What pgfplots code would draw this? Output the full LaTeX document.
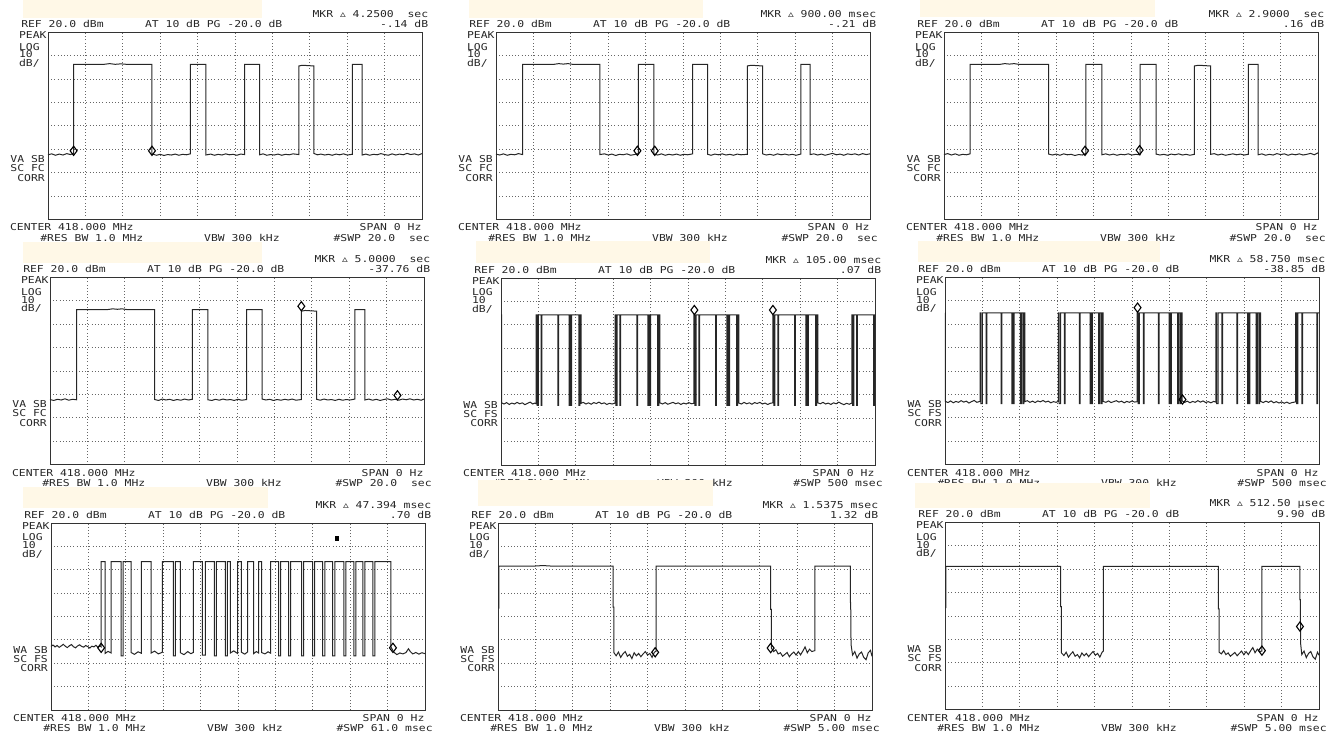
\documentclass[border=0pt]{standalone}
\usepackage{pgfplots}
\pgfplotsset{compat=1.18}
\usepackage{graphicx}
\usepackage{fontspec}
\newfontfamily\hpfont{DejaVu Sans Mono}
\newfontfamily\symfont{DejaVu Sans}
\definecolor{memo}{RGB}{255,248,231}
\newcommand{\hx}[1]{\scalebox{1.2}[1]{#1}}
\newcommand{\dl}{{\symfont ▵}}
\tikzset{hp/.style={font=\hpfont\fontsize{9.5pt}{9.5pt}\selectfont, inner sep=0pt, text=black!85}}
\pgfplotsset{
  sa/.style={width=374pt, height=187pt, scale only axis, anchor=north west, clip=false,
    ymin=-60, ymax=20, ytick={-50,-40,...,10},
    xmajorgrids, ymajorgrids, xticklabels={}, yticklabels={},
    tick style={draw=none},
    axis line style={black!80, line width=0.9pt},
    major grid style={black!60, line width=0.8pt, dash pattern=on 0.8pt off 2.4pt}},
  tr/.style={black!85, line width=1pt, no marks},
  mk/.style={only marks, mark=diamond, mark size=4.6pt, black, line width=1.1pt},
}
% screen annotations: marker value, marker dB, 2 status lines, sweep
\newcommand{\scr}[5]{%
  \node[hp,anchor=east] at (axis description cs:1.017,1.098) {\hx{MKR \dl{} #1}};
  \node[hp,anchor=west] at (axis description cs:-0.072,1.044) {\hx{REF 20.0 dBm}};
  \node[hp,anchor=west] at (axis description cs:0.259,1.044) {\hx{AT 10 dB PG -20.0 dB}};
  \node[hp,anchor=east] at (axis description cs:1.017,1.044) {\hx{#2 dB}};
  \node[hp,anchor=west] at (axis description cs:-0.078,0.986) {\hx{PEAK}};
  \node[hp,anchor=west] at (axis description cs:-0.078,0.923) {\hx{LOG}};
  \node[hp,anchor=west] at (axis description cs:-0.078,0.882) {\hx{10}};
  \node[hp,anchor=west] at (axis description cs:-0.078,0.834) {\hx{dB/}};
  \node[hp,anchor=east] at (axis description cs:-0.008,0.322) {\hx{#3}};
  \node[hp,anchor=east] at (axis description cs:-0.008,0.273) {\hx{#4}};
  \node[hp,anchor=east] at (axis description cs:-0.008,0.222) {\hx{CORR}};
  \node[hp,anchor=west] at (axis description cs:-0.102,-0.044) {\hx{CENTER 418.000 MHz}};
  \node[hp,anchor=east] at (axis description cs:0.999,-0.044) {\hx{SPAN 0 Hz}};
  \node[hp,anchor=west] at (axis description cs:-0.021,-0.098) {\hx{\#RES BW 1.0 MHz}};
  \node[hp,anchor=west] at (axis description cs:0.417,-0.098) {\hx{VBW 300 kHz}};
  \node[hp,anchor=east] at (axis description cs:1.021,-0.098) {\hx{\#SWP #5}};
}
\begin{document}
\begin{tikzpicture}
\useasboundingbox (0pt,0pt) rectangle (1338pt,-736pt);

% ---- row 1 ----
\begin{axis}[sa, at={(48pt,-32.3pt)}, xmin=0, xmax=20, xtick={2,4,...,18}]
\addplot[tr] coordinates {(0,-32.4) (0.2,-32.0) (0.4,-32.6) (0.6,-32.1) (0.8,-32.5) (1.0,-31.9) (1.2,-32.3) (1.37,-31.8) (1.37,6.3) (3,6.3) (3.3,6.6) (3.6,6.3) (3.9,6.5) (4.2,6.3) (5.56,6.3) (5.56,-32.0) (5.8,-32.6) (6.0,-32.2) (6.2,-32.7) (6.4,-32.3) (6.6,-32.5) (6.8,-32.1) (7.0,-32.6) (7.2,-32.2) (7.4,-32.4) (7.61,-32.0) (7.61,6.3) (8.44,6.3) (8.44,-32.5) (8.7,-32.1) (8.9,-32.6) (9.1,-32.2) (9.3,-32.5) (9.5,-32.0) (9.7,-32.4) (9.9,-32.2) (10.1,-32.6) (10.3,-32.1) (10.52,-32.3) (10.52,6.3) (11.32,6.3) (11.32,-32.4) (11.5,-32.0) (11.7,-32.6) (11.9,-32.3) (12.1,-32.5) (12.3,-32.1) (12.5,-32.6) (12.7,-32.2) (12.9,-32.4) (13.1,-32.0) (13.42,-32.3) (13.42,5.6) (13.6,5.9) (14.22,5.6) (14.22,-31.8) (14.4,-32.4) (14.6,-32.1) (14.8,-32.5) (15.0,-32.2) (15.2,-32.6) (15.4,-32.1) (15.6,-32.4) (15.8,-32.0) (16.0,-32.5) (16.27,-32.2) (16.27,6.3) (16.8,6.3) (16.8,-32.5) (17.0,-32.1) (17.2,-32.6) (17.4,-32.2) (17.6,-32.4) (17.8,-31.9) (18.0,-32.3) (18.2,-32.6) (18.4,-32.0) (18.6,-32.5) (18.8,-32.1) (19.0,-32.4) (19.2,-31.8) (19.4,-32.3) (19.6,-32.0) (19.8,-32.5) (20,-31.9)};
\addplot[mk] coordinates {(1.37,-30.7) (5.56,-30.7)};
\scr{4.2500~~sec}{-.14}{VA SB}{SC FC}{20.0~~sec}
\end{axis}

\begin{axis}[sa, at={(496pt,-32.3pt)}, xmin=0, xmax=20, xtick={2,4,...,18}]
\addplot[tr] coordinates {(0,-32.1) (0.2,-32.5) (0.4,-32.0) (0.6,-32.6) (0.8,-32.2) (1.0,-32.4) (1.2,-31.9) (1.42,-32.3) (1.42,6.3) (3.1,6.3) (3.35,6.6) (3.6,6.4) (3.85,6.6) (4.1,6.3) (5.56,6.3) (5.56,-32.3) (5.8,-32.0) (6.0,-32.5) (6.2,-32.1) (6.4,-32.7) (6.6,-32.2) (6.8,-32.4) (7.0,-32.0) (7.2,-32.6) (7.4,-32.3) (7.61,-31.9) (7.61,6.3) (8.44,6.3) (8.44,-32.1) (8.65,-32.5) (8.85,-32.0) (9.05,-32.6) (9.25,-32.2) (9.45,-32.5) (9.65,-32.1) (9.85,-32.6) (10.05,-32.2) (10.25,-32.4) (10.52,-32.0) (10.52,6.3) (11.32,6.3) (11.32,-32.2) (11.5,-32.6) (11.7,-32.1) (11.9,-32.4) (12.1,-32.0) (12.3,-32.5) (12.5,-32.2) (12.7,-32.6) (12.9,-32.1) (13.1,-32.4) (13.44,-32.2) (13.44,5.6) (13.65,5.9) (14.26,5.6) (14.26,-32.0) (14.45,-32.5) (14.65,-32.2) (14.85,-32.6) (15.05,-32.0) (15.25,-32.4) (15.45,-32.1) (15.65,-32.5) (15.85,-32.2) (16.05,-32.6) (16.30,-32.1) (16.30,6.3) (16.80,6.3) (16.80,-32.3) (17.0,-32.0) (17.2,-32.5) (17.4,-32.1) (17.6,-32.6) (17.8,-32.2) (18.0,-31.8) (18.2,-32.4) (18.4,-32.1) (18.6,-32.6) (18.8,-32.0) (19.0,-32.3) (19.2,-32.0) (19.4,-32.5) (19.6,-31.9) (19.8,-32.3) (20,-32.0)};
\addplot[mk] coordinates {(7.56,-30.7) (8.49,-30.7)};
\scr{900.00 msec}{-.21}{VA SB}{SC FC}{20.0~~sec}
\end{axis}

\begin{axis}[sa, at={(944pt,-32.3pt)}, xmin=0, xmax=20, xtick={2,4,...,18}]
\addplot[tr] coordinates {(0,-32.3) (0.2,-31.9) (0.4,-32.5) (0.6,-32.0) (0.8,-32.6) (1.0,-32.2) (1.2,-32.4) (1.39,-32.0) (1.39,6.3) (3.0,6.3) (3.25,6.6) (3.5,6.4) (3.75,6.6) (4.0,6.3) (5.60,6.3) (5.60,-32.1) (5.8,-32.5) (6.0,-32.1) (6.2,-32.6) (6.4,-32.0) (6.6,-32.4) (6.8,-32.2) (7.0,-32.7) (7.2,-32.3) (7.4,-32.5) (7.59,-31.8) (7.59,6.3) (8.44,6.3) (8.44,-32.4) (8.65,-32.0) (8.85,-32.5) (9.05,-32.1) (9.25,-32.6) (9.45,-32.2) (9.65,-32.4) (9.85,-32.0) (10.05,-32.5) (10.25,-32.2) (10.49,-32.4) (10.49,6.3) (11.34,6.3) (11.34,-32.1) (11.55,-32.5) (11.75,-32.2) (11.95,-32.6) (12.15,-32.1) (12.35,-32.4) (12.55,-32.0) (12.75,-32.5) (12.95,-32.2) (13.15,-32.6) (13.39,-32.2) (13.39,5.6) (13.6,5.9) (14.26,5.6) (14.26,-32.2) (14.45,-31.9) (14.65,-32.5) (14.85,-32.1) (15.05,-32.6) (15.25,-32.3) (15.45,-32.0) (15.65,-32.4) (15.85,-32.1) (16.05,-32.5) (16.27,-32.2) (16.27,6.3) (16.80,6.3) (16.80,-32.4) (17.0,-32.0) (17.2,-32.6) (17.4,-32.2) (17.6,-32.5) (17.8,-31.9) (18.0,-32.3) (18.2,-32.0) (18.4,-32.6) (18.6,-32.1) (18.8,-32.4) (19.0,-32.0) (19.2,-32.5) (19.4,-32.2) (19.6,-31.8) (19.8,-32.4) (20,-31.6)};
\addplot[mk] coordinates {(7.54,-30.7) (10.46,-30.4)};
\scr{2.9000~~sec}{.16}{VA SB}{SC FC}{20.0~~sec}
\end{axis}

% ---- row 2 ----
\begin{axis}[sa, at={(50pt,-277.5pt)}, xmin=0, xmax=20, xtick={2,4,...,18}]
\addplot[tr] coordinates {(0,-32.2) (0.2,-32.6) (0.4,-32.1) (0.6,-32.4) (0.8,-31.9) (1.0,-32.5) (1.2,-32.1) (1.42,-32.3) (1.42,6.3) (3.1,6.3) (3.35,6.6) (3.6,6.4) (3.85,6.6) (4.1,6.3) (5.60,6.3) (5.60,-32.2) (5.8,-32.6) (6.0,-32.0) (6.2,-32.4) (6.4,-32.1) (6.6,-32.6) (6.8,-32.2) (7.0,-32.5) (7.2,-32.0) (7.4,-32.4) (7.61,-32.1) (7.61,6.3) (8.44,6.3) (8.44,-32.3) (8.65,-32.6) (8.85,-32.1) (9.05,-32.5) (9.25,-32.0) (9.45,-32.4) (9.65,-32.2) (9.85,-32.6) (10.05,-32.1) (10.25,-32.5) (10.52,-32.2) (10.52,6.3) (11.34,6.3) (11.34,-32.0) (11.55,-32.4) (11.75,-32.1) (11.95,-32.6) (12.15,-32.2) (12.35,-32.5) (12.55,-32.1) (12.75,-32.4) (12.95,-32.0) (13.15,-32.5) (13.44,-32.2) (13.44,5.6) (13.65,5.9) (14.26,5.6) (14.26,-32.1) (14.45,-32.5) (14.65,-32.0) (14.85,-32.4) (15.05,-32.2) (15.25,-32.6) (15.45,-32.1) (15.65,-32.5) (15.85,-32.2) (16.05,-32.4) (16.30,-32.0) (16.30,6.3) (16.84,6.3) (16.84,-32.4) (17.05,-32.0) (17.25,-32.5) (17.45,-32.1) (17.65,-32.6) (17.85,-32.2) (18.05,-31.9) (18.25,-32.4) (18.45,-32.1) (18.65,-32.5) (18.85,-32.0) (19.05,-32.3) (19.25,-31.9) (19.45,-32.4) (19.65,-32.1) (19.85,-32.5) (20,-32.0)};
\addplot[mk] coordinates {(13.44,7.7) (18.58,-30.4)};
\scr{5.0000~~sec}{-37.76}{VA SB}{SC FC}{20.0~~sec}
\end{axis}

\begin{axis}[sa, at={(501pt,-278pt)}, xmin=0, xmax=500, xtick={50,100,...,450}]
\addplot[tr] coordinates {(0,4.2) (0.9,4.2) (0.9,-33.4)
(4,-33.9) (7.5,-33.3) (11,-34.1) (14.5,-33.5) (18,-33.9) (21.5,-33.2) (25,-33.8) (28.5,-33.4) (32,-34.2) (35.5,-33.6) (39,-33.1) (42.5,-33.9) (45,-33.5) (47,-33.8)
(47,4.2) (48.2,4.2) (48.2,-34.5) (49.8,-34.5) (49.8,4.2) (53.5,4.2) (53.5,-34.5) (54.5,-34.5) (54.5,4.2) (76,4.2) (76,-34.5) (77,-34.5) (77,4.2) (91,4.2) (91,-34.5) (91.8,-34.5) (91.8,4.2) (93.2,4.2) (93.2,-34.5) (94.5,-34.5) (94.5,4.2) (104,4.2) (104,-34.5) (105.5,-34.5) (105.5,4.2) (107,4.2) (107,-33.6)
(110,-33.2) (113.5,-33.9) (117,-33.4) (120.5,-34.0) (124,-33.3) (127.5,-33.7) (131,-33.1) (134.5,-33.8) (138,-33.4) (141.5,-34.1) (145,-33.6) (148.5,-33.9) (152.5,-33.5)
(152.5,4.2) (153.7,4.2) (153.7,-34.5) (155.3,-34.5) (155.3,4.2) (159,4.2) (159,-34.5) (160,-34.5) (160,4.2) (181.5,4.2) (181.5,-34.5) (182.5,-34.5) (182.5,4.2) (196.5,4.2) (196.5,-34.5) (197.3,-34.5) (197.3,4.2) (198.7,4.2) (198.7,-34.5) (200,-34.5) (200,4.2) (209.5,4.2) (209.5,-34.5) (211,-34.5) (211,4.2) (212.5,4.2) (212.5,-33.4)
(216,-33.9) (219.5,-33.3) (223,-34.0) (226.5,-33.6) (230,-33.2) (233.5,-33.8) (237,-33.4) (240.5,-34.1) (244,-33.5) (247.5,-33.9) (251,-33.3) (254.5,-33.8) (258,-33.6)
(258,4.2) (259.2,4.2) (259.2,-34.5) (260.8,-34.5) (260.8,4.2) (264.5,4.2) (264.5,-34.5) (265.5,-34.5) (265.5,4.2) (287,4.2) (287,-34.5) (288,-34.5) (288,4.2) (302,4.2) (302,-34.5) (302.8,-34.5) (302.8,4.2) (304.2,4.2) (304.2,-34.5) (305.5,-34.5) (305.5,4.2) (315,4.2) (315,-34.5) (316.5,-34.5) (316.5,4.2) (318,4.2) (318,-33.5)
(321.5,-33.9) (325,-33.2) (328.5,-33.8) (332,-33.4) (335.5,-34.0) (339,-33.3) (342.5,-33.7) (346,-33.2) (349.5,-33.9) (353,-33.5) (356.5,-34.1) (360,-33.6) (363.5,-33.4)
(363.5,4.2) (364.7,4.2) (364.7,-34.5) (366.3,-34.5) (366.3,4.2) (370,4.2) (370,-34.5) (371,-34.5) (371,4.2) (392.5,4.2) (392.5,-34.5) (393.5,-34.5) (393.5,4.2) (407.5,4.2) (407.5,-34.5) (408.3,-34.5) (408.3,4.2) (409.7,4.2) (409.7,-34.5) (411,-34.5) (411,4.2) (420.5,4.2) (420.5,-34.5) (422,-34.5) (422,4.2) (423.5,4.2) (423.5,-33.4)
(427,-33.8) (430.5,-33.2) (434,-33.9) (437.5,-33.5) (441,-34.1) (444.5,-33.4) (448,-33.8) (451.5,-33.1) (455,-33.7) (458.5,-34.2) (462,-33.6) (465.5,-34.0) (469,-33.5)
(469,4.2) (470.2,4.2) (470.2,-34.5) (471.8,-34.5) (471.8,4.2) (475.5,4.2) (475.5,-34.5) (476.5,-34.5) (476.5,4.2) (498,4.2) (498,-34.5) (499,-34.5) (499,4.2) (500,4.2)};
\addplot[mk] coordinates {(258.5,6.3) (363.5,6.3)};
\scr{105.00 msec}{.07}{WA SB}{SC FS}{500 msec}
\end{axis}

\begin{axis}[sa, at={(945pt,-277.5pt)}, xmin=0, xmax=500, xtick={50,100,...,450}]
\addplot[tr] coordinates {(0,4.9) (0.5,4.9) (0.5,-33.0)
(4,-33.5) (7.5,-32.8) (11,-33.6) (14.5,-33.0) (18,-33.4) (21.5,-32.7) (25,-33.3) (28.5,-32.9) (32,-33.7) (35.5,-33.1) (39,-32.6) (42.5,-33.4) (46.8,-33.0)
(46.8,4.9) (48,4.9) (48,-34) (49.8,-34) (49.8,4.9) (55.1,4.9) (55.1,-34) (56.1,-34) (56.1,4.9) (75.1,4.9) (75.1,-34) (76.1,-34) (76.1,4.9) (89.3,4.9) (89.3,-34) (90.1,-34) (90.1,4.9) (91,4.9) (91,-34) (92.3,-34) (92.3,4.9) (100.8,4.9) (100.8,-34) (102.3,-34) (102.3,4.9) (104.3,4.9) (104.3,-34) (105.3,-34) (105.3,4.9) (106.8,4.9) (106.8,-33.1)
(110,-32.7) (113.5,-33.4) (117,-32.9) (120.5,-33.5) (124,-32.8) (127.5,-33.2) (131,-32.6) (134.5,-33.3) (138,-32.9) (141.5,-33.6) (145,-33.1) (148.5,-33.4) (151.4,-33.0)
(151.4,4.9) (152.6,4.9) (152.6,-34) (154.4,-34) (154.4,4.9) (159.7,4.9) (159.7,-34) (160.7,-34) (160.7,4.9) (179.7,4.9) (179.7,-34) (180.7,-34) (180.7,4.9) (193.9,4.9) (193.9,-34) (194.7,-34) (194.7,4.9) (195.6,4.9) (195.6,-34) (196.9,-34) (196.9,4.9) (205.4,4.9) (205.4,-34) (206.9,-34) (206.9,4.9) (208.9,4.9) (208.9,-34) (209.9,-34) (209.9,4.9) (211.4,4.9) (211.4,-33.0)
(215,-33.4) (218.5,-32.8) (222,-33.5) (225.5,-33.1) (229,-32.7) (232.5,-33.3) (236,-32.9) (239.5,-33.6) (243,-33.0) (246.5,-33.4) (250,-32.8) (253.5,-33.3) (257,-33.1)
(257,4.9) (258.2,4.9) (258.2,-34) (260,-34) (260,4.9) (265.3,4.9) (265.3,-34) (266.3,-34) (266.3,4.9) (285.3,4.9) (285.3,-34) (286.3,-34) (286.3,4.9) (299.5,4.9) (299.5,-34) (300.3,-34) (300.3,4.9) (301.2,4.9) (301.2,-34) (302.5,-34) (302.5,4.9) (311,4.9) (311,-34) (312.5,-34) (312.5,4.9) (314.5,4.9) (314.5,-34) (315.5,-34) (315.5,4.9) (317,4.9) (317,-32.8)
(320.5,-33.4) (324,-32.9) (327.5,-33.6) (331,-33.0) (334.5,-33.4) (338,-32.7) (341.5,-33.3) (345,-32.8) (348.5,-33.5) (352,-33.1) (355.5,-33.6) (359,-33.0) (362,-33.3)
(362,4.9) (363.2,4.9) (363.2,-34) (365,-34) (365,4.9) (370.3,4.9) (370.3,-34) (371.3,-34) (371.3,4.9) (390.3,4.9) (390.3,-34) (391.3,-34) (391.3,4.9) (404.5,4.9) (404.5,-34) (405.3,-34) (405.3,4.9) (406.2,4.9) (406.2,-34) (407.5,-34) (407.5,4.9) (416,4.9) (416,-34) (417.5,-34) (417.5,4.9) (419.5,4.9) (419.5,-34) (420.5,-34) (420.5,4.9) (422,4.9) (422,-33.0)
(425.5,-33.5) (429,-32.9) (432.5,-33.4) (436,-32.8) (439.5,-33.6) (443,-33.1) (446.5,-33.7) (450,-33.2) (453.5,-33.8) (457,-33.3) (460.5,-33.9) (464,-33.5) (468.9,-33.2)
(468.9,4.9) (470.1,4.9) (470.1,-34) (471.9,-34) (471.9,4.9) (477.2,4.9) (477.2,-34) (478.2,-34) (478.2,4.9) (497.2,4.9) (497.2,-34) (498.2,-34) (498.2,4.9) (500,4.9)};
\addplot[mk] coordinates {(257.4,7.1) (317.5,-32.2)};
\scr{58.750 msec}{-38.85}{WA SB}{SC FS}{500 msec}
\end{axis}

% ---- row 3 ----
\begin{axis}[sa, at={(51pt,-523pt)}, xmin=0, xmax=61, xtick={6.1,12.2,18.3,24.4,30.5,36.6,42.7,48.8,54.9}]
\addplot[tr] coordinates {(0,-32.8) (0.33,-32.2) (0.66,-33.0) (1.0,-32.4) (1.33,-33.2) (1.66,-32.6) (2.0,-31.9) (2.33,-32.7) (2.66,-33.3) (3.0,-32.5) (3.33,-32.0) (3.66,-32.9) (4.0,-33.4) (4.33,-32.6) (4.66,-32.1) (5.0,-32.8) (5.33,-33.1) (5.66,-32.4) (6.0,-32.9) (6.33,-33.5) (6.66,-32.7) (7.0,-33.0) (7.33,-32.3) (7.66,-33.2) (8.0,-32.6) (8.18,-33.0)
(8.18,3.5) (8.83,3.5) (8.83,-35.8) (9.3,-34.9) (9.81,-35.6) (9.81,3.5) (11.45,3.5) (11.45,-36.8) (11.78,-36.8) (11.78,3.5) (13.08,3.5) (13.08,-35.4) (13.6,-36.2) (14.2,-35.1) (14.72,-35.7) (14.72,3.5) (16.35,3.5) (16.35,-35.6) (16.9,-34.8) (17.5,-36.0) (18.15,-35.3) (18.15,3.5) (19.95,3.5) (19.95,-36.8) (20.28,-36.8) (20.28,3.5) (21.10,3.5) (21.10,-35.5) (21.7,-36.3) (22.3,-35.0) (22.8,-35.9) (23.22,-35.4) (23.22,3.5) (24.69,3.5) (24.69,-36.5) (25.19,-36.5) (25.19,3.5) (26.66,3.5) (26.66,-36.8) (26.98,-36.8) (26.98,3.5) (28.46,3.5) (28.46,-36.8) (28.78,-36.8) (28.78,3.5) (29.27,3.5) (29.27,-35.6) (29.8,-34.7) (30.42,-35.8) (30.42,3.5) (31.07,3.5) (31.07,-35.3) (31.6,-36.1) (32.05,-35.2) (32.05,3.5) (33.04,3.5) (33.04,-35.9) (33.5,-35.0) (33.85,-35.6) (33.85,3.5) (34.34,3.5) (34.34,-35.4) (34.9,-36.0) (35.4,-35.1) (35.82,-35.7) (35.82,3.5) (37.12,3.5) (37.12,-36.8) (37.45,-36.8) (37.45,3.5) (38.76,3.5) (38.76,-36.8) (39.09,-36.8) (39.09,3.5) (40.89,3.5) (40.89,-36.8) (41.21,-36.8) (41.21,3.5) (42.68,3.5) (42.68,-36.8) (43.01,-36.8) (43.01,3.5) (44.32,3.5) (44.32,-36.8) (44.65,-36.8) (44.65,3.5) (45.95,3.5) (45.95,-36.8) (46.28,-36.8) (46.28,3.5) (47.75,3.5) (47.75,-36.8) (48.08,-36.8) (48.08,3.5) (49.39,3.5) (49.39,-36.8) (49.72,-36.8) (49.72,3.5) (50.86,3.5) (50.86,-36.8) (51.19,-36.8) (51.19,3.5) (52.50,3.5) (52.50,-36.8) (52.82,-36.8) (52.82,3.5) (55.44,3.5) (55.44,-33.0)
(55.9,-35.2) (56.4,-36.3) (56.9,-35.6) (57.4,-36.0) (57.9,-35.4) (58.3,-33.8) (58.6,-35.0) (59.0,-36.0) (59.5,-35.4) (60.0,-36.1) (60.5,-35.5) (61,-35.9)};
\addplot[mk] coordinates {(8.18,-33.4) (55.77,-33.4)};
\addplot[only marks, mark=square*, mark size=1.6pt, black] coordinates {(46.6,13.5)};
\scr{47.394 msec}{.70}{WA SB}{SC FS}{61.0 msec}
\end{axis}

\begin{axis}[sa, at={(498pt,-523pt)}, xmin=0, xmax=5, xtick={0.5,1,...,4.5}]
\addplot[tr] coordinates {(0.01,-16.6) (0.01,1.6) (0.5,1.6) (0.6,1.8) (0.7,1.6) (1.538,1.6) (1.538,-16) (1.55,-16) (1.55,-35.5) (1.58,-36.8) (1.61,-35.2) (1.64,-37.5) (1.67,-36.0) (1.70,-35.0) (1.73,-37.0) (1.76,-36.2) (1.79,-38.0) (1.82,-35.5) (1.85,-36.8) (1.88,-35.8) (1.91,-37.2) (1.94,-36.0) (1.97,-35.0) (2.00,-36.5) (2.03,-35.8) (2.06,-37.5) (2.09,-35.3) (2.115,-34.8) (2.115,1.6) (3.645,1.6) (3.645,-17) (3.655,-17) (3.655,-33.5) (3.685,-35.0) (3.715,-34.2) (3.745,-36.0) (3.775,-35.5) (3.805,-37.0) (3.835,-36.2) (3.865,-35.4) (3.895,-37.2) (3.925,-36.0) (3.955,-35.2) (3.985,-36.5) (4.015,-35.0) (4.045,-36.4) (4.075,-34.8) (4.105,-33.0) (4.135,-35.5) (4.165,-34.0) (4.195,-35.0) (4.235,-34.6) (4.235,1.6) (4.71,1.6) (4.71,-14) (4.715,-14) (4.72,-32) (4.74,-36.5) (4.77,-35.0) (4.80,-37.8) (4.83,-36.0) (4.86,-35.2) (4.89,-37.5) (4.92,-38.5) (4.95,-35.5) (4.98,-34.5) (5.0,-37.0)};
\addplot[mk] coordinates {(2.101,-35.3) (3.645,-33.5)};
\scr{1.5375 msec}{1.32}{WA SB}{SC FS}{5.00 msec}
\end{axis}

\begin{axis}[sa, at={(945pt,-522.5pt)}, xmin=0, xmax=5, xtick={0.5,1,...,4.5}]
\addplot[tr] coordinates {(0.01,-16.6) (0.01,1.2) (1.547,1.2) (1.547,-16) (1.557,-16) (1.557,-35.8) (1.59,-36.9) (1.62,-35.5) (1.65,-37.6) (1.68,-36.3) (1.71,-35.3) (1.74,-37.2) (1.77,-36.5) (1.80,-37.9) (1.83,-35.8) (1.86,-37.0) (1.89,-36.0) (1.92,-37.4) (1.95,-36.2) (1.98,-35.2) (2.01,-36.8) (2.04,-36.0) (2.07,-37.6) (2.10,-35.5) (2.117,-35.0) (2.117,1.2) (3.655,1.2) (3.655,-17) (3.665,-17) (3.665,-35.5) (3.695,-36.2) (3.725,-34.8) (3.755,-36.5) (3.785,-35.8) (3.815,-37.2) (3.845,-36.4) (3.875,-35.6) (3.905,-37.0) (3.935,-36.0) (3.965,-35.0) (3.995,-36.6) (4.025,-35.2) (4.055,-36.5) (4.085,-34.9) (4.115,-33.5) (4.145,-35.7) (4.175,-34.2) (4.205,-35.2) (4.237,-35.0) (4.237,1.2) (4.745,1.2) (4.745,-13) (4.75,-13) (4.755,-32) (4.77,-36.5) (4.80,-35.0) (4.83,-37.8) (4.86,-36.0) (4.89,-35.2) (4.92,-37.5) (4.95,-38.5) (4.98,-35.5) (5.0,-36.8)};
\addplot[mk] coordinates {(4.237,-34.8) (4.745,-24.5)};
\scr{512.50 µsec}{9.90}{WA SB}{SC FS}{5.00 msec}
\end{axis}

% pale masking strips over the screenshots
\fill[memo] (23pt,0pt) rectangle (262pt,-18pt);
\fill[memo] (469pt,0pt) rectangle (703pt,-18pt);
\fill[memo] (920pt,0pt) rectangle (1155pt,-17pt);
\fill[memo] (23pt,-242pt) rectangle (262pt,-263pt);
\fill[memo] (476pt,-241pt) rectangle (710pt,-263pt);
\fill[memo] (918pt,-241pt) rectangle (1160pt,-262pt);
\fill[memo] (23pt,-487pt) rectangle (268pt,-508pt);
\fill[memo] (478pt,-480pt) rectangle (713pt,-506pt);
\fill[memo] (915pt,-483pt) rectangle (1150pt,-508pt);
\end{tikzpicture}
\end{document}
